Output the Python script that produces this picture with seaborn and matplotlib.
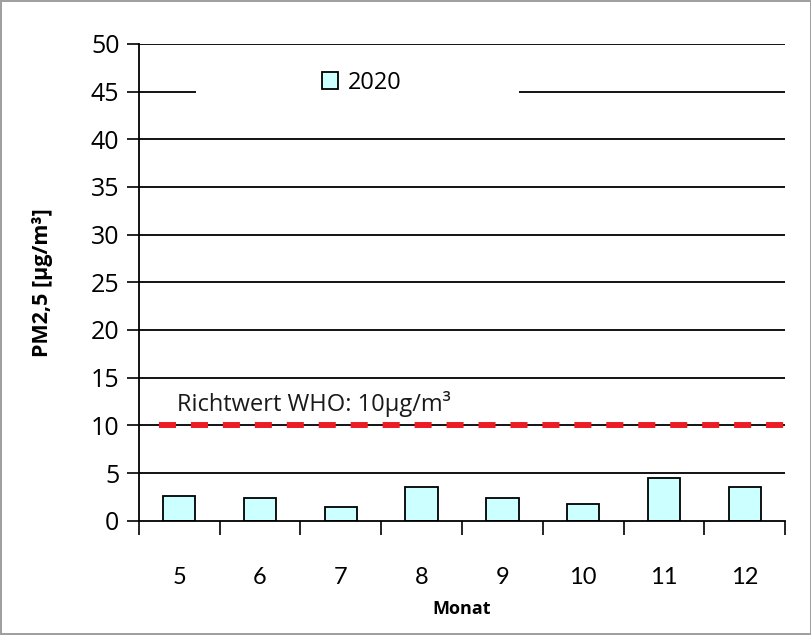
import matplotlib
matplotlib.use("Agg")
import matplotlib.pyplot as plt
import matplotlib.patches as mpatches
import seaborn as sns
import pandas as pd

# data
monate = ["5", "6", "7", "8", "9", "10", "11", "12"]
pm25 = [2.6, 2.4, 1.4, 3.5, 2.4, 1.8, 4.5, 3.5]
who_richtwert = 10
jahr = "2020"

df = pd.DataFrame({"Monat": monate, "PM25": pm25})

sns.set_style("white")
plt.rcParams["font.family"] = ["Open Sans", "DejaVu Sans"]
plt.rcParams["text.color"] = "black"
plt.rcParams["axes.labelcolor"] = "black"
plt.rcParams["xtick.color"] = "black"
plt.rcParams["ytick.color"] = "black"

fig = plt.figure(figsize=(8.12, 6.35), dpi=100)
fig.patch.set_edgecolor("#a0a0a0")
fig.patch.set_linewidth(1.5)
ax = fig.add_axes([0.171, 0.180, 0.796, 0.751])

# horizontal grid lines
for y in range(5, 55, 5):
    ax.axhline(y, color="black", lw=1.3, zorder=0)

sns.barplot(data=df, x="Monat", y="PM25", ax=ax, width=0.4,
            color="#ccffff", edgecolor="black", linewidth=1.3,
            saturation=1, label=jahr, zorder=2)

# WHO guideline
ax.hlines(who_richtwert, -0.25, 7.5, color="#ed1c24", lw=4.3,
          linestyles=(0, (2.85, 2.5)), zorder=3)
ax.text(-0.03, who_richtwert + 0.9, "Richtwert WHO: 10µg/m³", fontsize=17,
        va="bottom", ha="left", color="#1a1a1a")

ax.set_xlim(-0.5, 7.47)
ax.set_ylim(0, 50)
ax.set_yticks(range(0, 55, 5))
ax.tick_params(axis="y", direction="out", length=9, width=1.2, labelsize=18,
               left=True, pad=5)
ax.tick_params(axis="x", which="major", length=0, labelsize=17, pad=33)
ax.set_xticks([i - 0.5 for i in range(len(monate) + 1)], minor=True)
ax.tick_params(axis="x", which="minor", direction="out", length=10,
               width=1.2, bottom=True)
for lab in ax.get_xticklabels():
    lab.set_family(["Lato", "DejaVu Sans"])

for side in ["top", "right"]:
    ax.spines[side].set_visible(False)
for side in ["left", "bottom"]:
    ax.spines[side].set_color("black")
    ax.spines[side].set_linewidth(1.3)

ax.set_xlabel("Monat", fontsize=13, fontweight="bold", labelpad=9)
ax.set_ylabel("PM2,5 [µg/m³]", fontsize=15.5, fontweight="bold", labelpad=27)

# legend box (white area over the 45 grid line)
ax.add_patch(mpatches.Rectangle((0.088, 0.87), 0.50, 0.10,
                                transform=ax.transAxes, facecolor="white",
                                edgecolor="none", zorder=4))
leg = ax.legend(loc="center left", bbox_to_anchor=(0.25, 0.918),
                frameon=False, fontsize=17, handlelength=0.7,
                handleheight=0.7, handletextpad=0.4)
leg.set_zorder(5)

fig.savefig("out.png", dpi=100)
